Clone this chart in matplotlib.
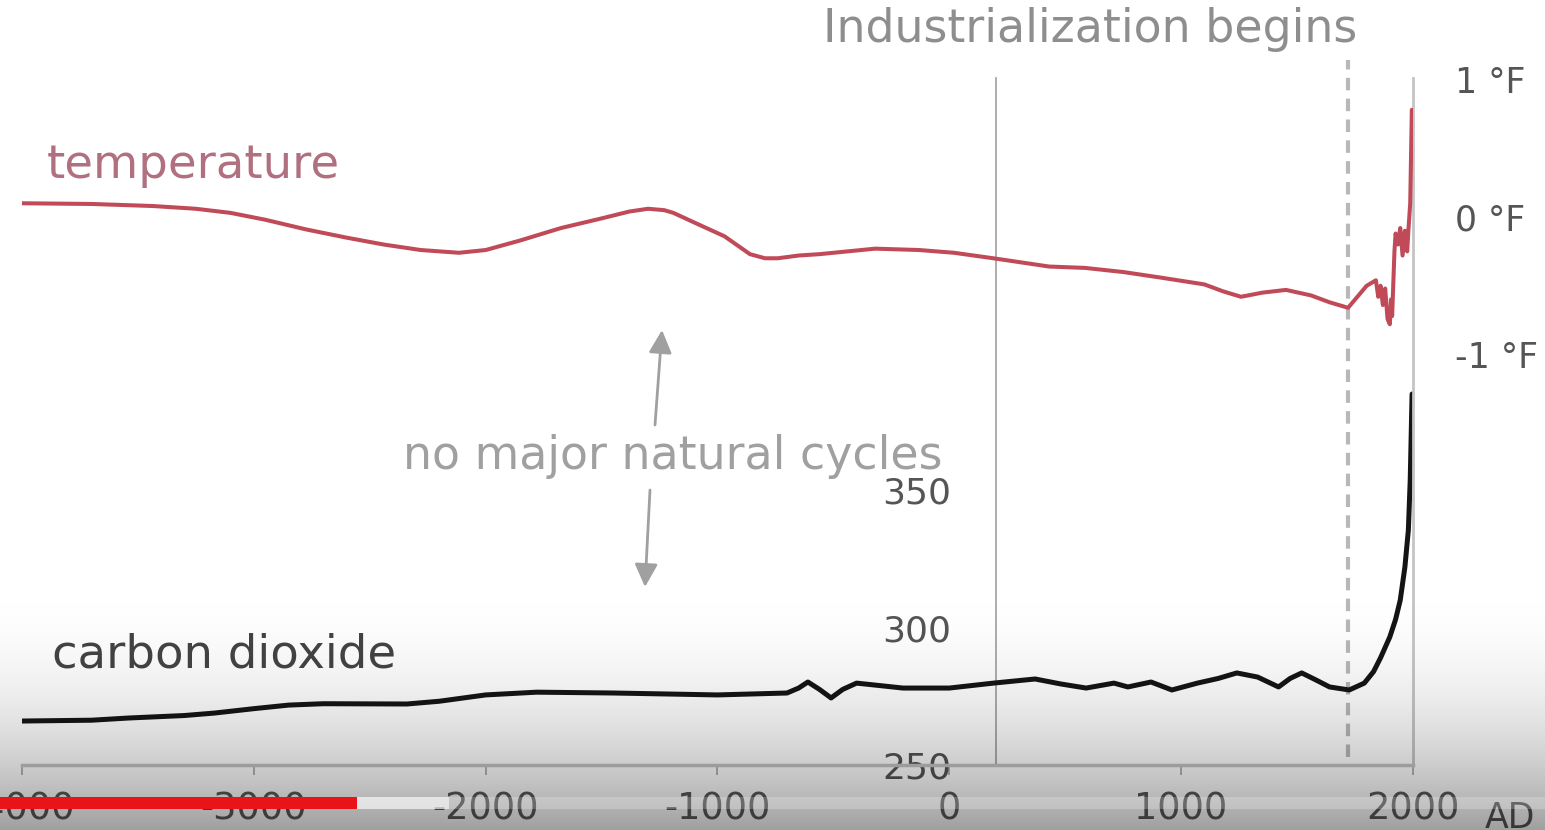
import numpy as np
import matplotlib
matplotlib.use("Agg")
import matplotlib.pyplot as plt
from matplotlib.patches import Rectangle, FancyArrowPatch

# ---------------- data ----------------
years_co2 = [-4000, -3700, -3540, -3300, -3170, -3000, -2850, -2700, -2340, -2200,
             -2000, -1780, -1450, -1000, -700, -650, -610, -560, -510, -460,
             -400, -200, 0, 190, 370, 480, 590, 710, 770, 870,
             960, 1070, 1160, 1240, 1330, 1420, 1470, 1520, 1580, 1640,
             1725, 1790, 1830, 1860, 1900, 1925, 1945, 1965, 1980, 1988, 1996]
co2_ppm = [266.0, 266.3, 267.1, 268.0, 268.9, 270.5, 271.8, 272.3, 272.2, 273.2,
           275.5, 276.5, 276.2, 275.5, 276.2, 278.0, 280.2, 277.5, 274.4, 277.5,
           279.8, 278.0, 278.0, 279.8, 281.3, 279.5, 278.0, 279.8, 278.4, 280.2,
           277.3, 279.8, 281.5, 283.5, 282.0, 278.4, 281.5, 283.5, 281.0, 278.4,
           277.3, 279.8, 284.0, 289.0, 296.6, 303.0, 310.0, 322.0, 335.5, 353.7, 385.0]

years_temp = [-4000, -3700, -3435, -3250, -3100, -2950, -2775, -2600, -2440, -2280,
              -2115, -2000, -1850, -1675, -1500, -1380, -1300, -1230, -1190, -1100,
              -970, -860, -795, -740, -650, -560, -440, -320, -130, 20,
              190, 430, 585, 750, 910, 1100, 1180, 1258, 1350, 1452,
              1560, 1640, 1720, 1760, 1800, 1840, 1850, 1860, 1870, 1880,
              1890, 1900, 1905, 1910, 1920, 1925, 1935, 1945, 1955, 1965,
              1975, 1980, 1988, 1995]
temp_F = [0.10, 0.095, 0.08, 0.06, 0.03, -0.02, -0.09, -0.15, -0.20, -0.24,
          -0.26, -0.24, -0.17, -0.08, -0.01, 0.04, 0.06, 0.05, 0.03, -0.04,
          -0.14, -0.27, -0.30, -0.30, -0.28, -0.27, -0.25, -0.23, -0.24, -0.26,
          -0.30, -0.36, -0.37, -0.40, -0.44, -0.49, -0.54, -0.58, -0.55, -0.53,
          -0.57, -0.62, -0.66, -0.58, -0.50, -0.46, -0.58, -0.50, -0.64, -0.52,
          -0.74, -0.78, -0.60, -0.72, -0.25, -0.12, -0.20, -0.08, -0.28, -0.10,
          -0.25, -0.10, 0.10, 0.78]

x_ticks = [-4000, -3000, -2000, -1000, 0, 1000, 2000]
x_tick_labels = ["-4000", "-3000", "-2000", "-1000", "0", "1000", "2000"]
co2_ticks = [250, 300, 350]
co2_tick_labels = ["250", "300", "350"]
temp_ticks = [-1, 0, 1]
temp_tick_labels = ["-1 °F", "0 °F", "1 °F"]
industrial_year = 1720
co2_axis_year = 200

# ---------------- figure ----------------
W, H = 1545, 830
fig = plt.figure(figsize=(W / 100, H / 100), dpi=100)
fig.patch.set_facecolor("white")

def fx(px):
    return px / W

def fy(py):
    return 1 - py / H

left_px, right_px, top_px, bottom_px = 22, 1413, 78, 765
ax = fig.add_axes([fx(left_px), fy(bottom_px), (right_px - left_px) / W, (bottom_px - top_px) / H])
ax.set_xlim(-4000, 2000)
ax.set_ylim(250, 500)
ax.patch.set_alpha(0)

ax.plot(years_co2, co2_ppm, color="#151515", lw=3.6, solid_joinstyle="round",
        solid_capstyle="round", zorder=4)

ax2 = ax.twinx()
ax2.set_ylim(-3.985, 1.011)
ax2.plot(years_temp, temp_F, color="#c04a58", lw=2.9, solid_joinstyle="round",
         solid_capstyle="round", zorder=4)

# spines
for s in ["top", "right"]:
    ax.spines[s].set_visible(False)
ax.spines["left"].set_position(("data", co2_axis_year))
ax.spines["left"].set_color("#a0a0a0")
ax.spines["left"].set_linewidth(1.2)
ax.spines["bottom"].set_color("#c4c4c4")
ax.spines["bottom"].set_linewidth(2.5)
for s in ["top", "left", "bottom"]:
    ax2.spines[s].set_visible(False)
ax2.spines["right"].set_color("#c4c4c4")
ax2.spines["right"].set_linewidth(2)

ax.set_xticks(x_ticks)
ax.set_xticklabels(x_tick_labels)
ax.tick_params(axis="x", length=7, width=1.3, color="#b0b0b0", pad=11,
               labelsize=26.5, labelcolor="#5a5a5a")
ax.set_yticks(co2_ticks)
ax.set_yticklabels(co2_tick_labels)
ax.tick_params(axis="y", length=0, pad=32, labelsize=26, labelcolor="#555555")

ax2.set_yticks(temp_ticks)
ax2.set_yticklabels(temp_tick_labels)
ax2.tick_params(axis="y", length=0, pad=30, labelsize=25, labelcolor="#555555")

# industrialization dashed line
ax.axvline(industrial_year, ymin=0.012, ymax=1.026, clip_on=False, color="#b8b8b8",
           lw=3.0, dashes=(3, 2), zorder=2)

# texts
fig.text(fx(1090), fy(29), "Industrialization begins", ha="center", va="center",
         fontsize=33, color="#8e8e8e")
fig.text(fx(47), fy(165), "temperature", ha="left", va="center",
         fontsize=33.5, color="#b07080")
fig.text(fx(52), fy(655), "carbon dioxide", ha="left", va="center",
         fontsize=33.5, color="#444444")
fig.text(fx(673), fy(456), "no major natural cycles", ha="center", va="center",
         fontsize=33, color="#a0a0a0")
fig.text(fx(1485), fy(818), "AD", ha="left", va="center", fontsize=25, color="#555555")

# arrows
arrow_kw = dict(arrowstyle="-|>,head_length=0.7,head_width=0.35", color="#a0a0a0",
                lw=2, mutation_scale=20, shrinkA=0, shrinkB=0)
fig.add_artist(FancyArrowPatch((655, H - 425), (662, H - 330), transform=None, **arrow_kw))
fig.add_artist(FancyArrowPatch((650, H - 490), (645, H - 587), transform=None, **arrow_kw))

# video overlay: bottom gradient + progress bar
oax = fig.add_axes([0, 0, 1, 1], zorder=20)
oax.set_axis_off()
rows = np.arange(H)
t = np.clip((rows - 570) / (H - 570), 0, 1)
alpha = 0.38 * t ** 2.2
img = np.zeros((H, 1, 4))
img[:, 0, 3] = alpha
oax.imshow(img, extent=(0, W, H, 0), aspect="auto", interpolation="bilinear")
oax.add_patch(Rectangle((357, 797), W - 357, 12, color="white", alpha=0.22, lw=0))
oax.add_patch(Rectangle((357, 797), 92, 12, color="white", alpha=0.55, lw=0))
oax.add_patch(Rectangle((0, 797), 357, 12, color="#e8141a", lw=0))
oax.set_xlim(0, W)
oax.set_ylim(H, 0)

fig.savefig("out.png", dpi=100)
